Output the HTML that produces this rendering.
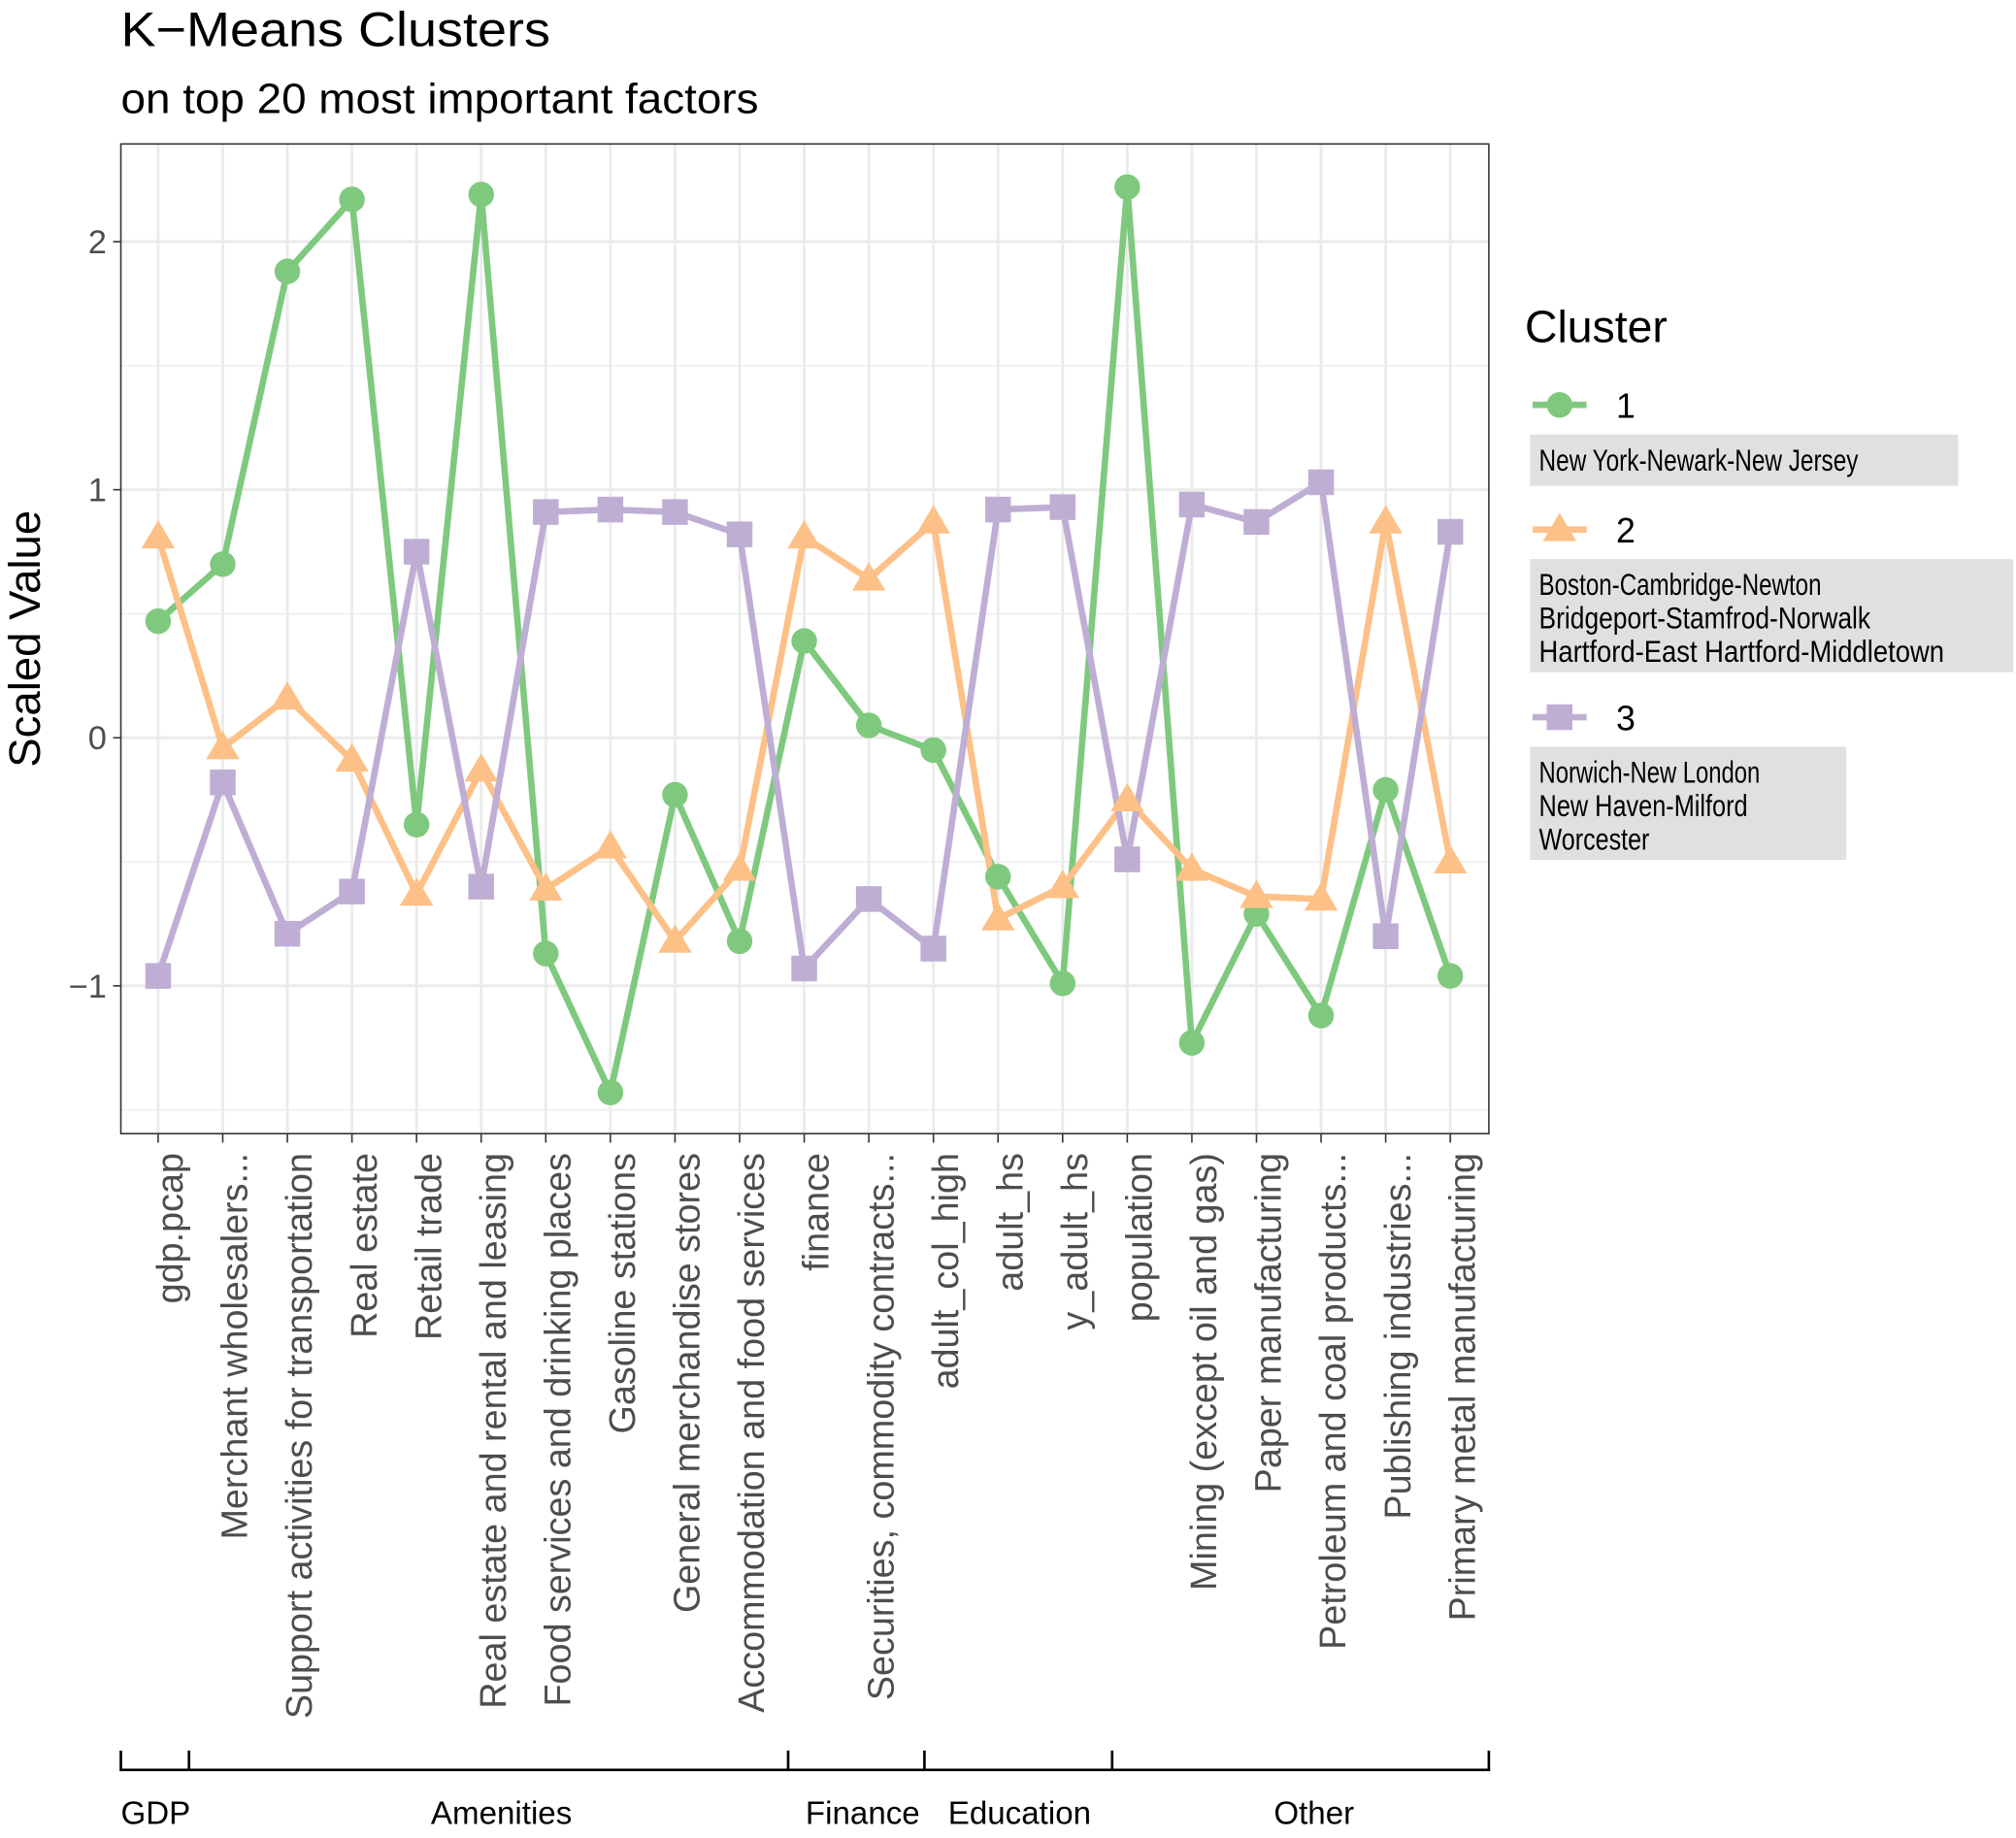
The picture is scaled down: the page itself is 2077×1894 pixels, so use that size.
<!DOCTYPE html>
<html><head><meta charset="utf-8"><style>
html,body{margin:0;padding:0;background:#fff;}
svg{display:block;font-family:"Liberation Sans",sans-serif;}
</style></head><body>
<svg id="chart" width="2077" height="1894" viewBox="0 0 1568 1430" preserveAspectRatio="none" xmlns="http://www.w3.org/2000/svg">
<text x="94" y="36" font-size="38" fill="#000" textLength="334" lengthAdjust="spacingAndGlyphs">K−Means Clusters</text>
<text x="94" y="88" font-size="33" fill="#000" textLength="496" lengthAdjust="spacingAndGlyphs">on top 20 most important factors</text>
<g id="grid"></g>
<g id="series"></g>
<rect x="94" y="112" width="1064" height="770" fill="none" stroke="#333" stroke-width="1.2"/>
<g id="axes"></g>
<text transform="translate(31,497) rotate(-90)" text-anchor="middle" font-size="34" fill="#000" textLength="200" lengthAdjust="spacingAndGlyphs">Scaled Value</text>
<g id="groups">
<path d="M94,1362V1377H1158V1362M147,1362V1377M613,1362V1377M719,1362V1377M865,1362V1377" fill="none" stroke="#000" stroke-width="2"/>
<text x="94" y="1419" font-size="25">GDP</text>
<text x="390" y="1419" font-size="25" text-anchor="middle">Amenities</text>
<text x="671" y="1419" font-size="25" text-anchor="middle">Finance</text>
<text x="793" y="1419" font-size="25" text-anchor="middle">Education</text>
<text x="1022" y="1419" font-size="25" text-anchor="middle">Other</text>
</g>
<g id="legend">
<text x="1186" y="266" font-size="35">Cluster</text>
</g>
</svg>
<script>
const categories = ["gdp.pcap","Merchant wholesalers...","Support activities for transportation","Real estate","Retail trade","Real estate and rental and leasing","Food services and drinking places","Gasoline stations","General merchandise stores","Accommodation and food services","finance","Securities, commodity contracts...","adult_col_high","adult_hs","y_adult_hs","population","Mining (except oil and gas)","Paper manufacturing","Petroleum and coal products...","Publishing industries...","Primary metal manufacturing"];
const cluster1 = [0.47,0.70,1.88,2.17,-0.35,2.19,-0.87,-1.43,-0.23,-0.82,0.39,0.05,-0.05,-0.56,-0.99,2.22,-1.23,-0.71,-1.12,-0.21,-0.96];
const cluster2 = [0.81,-0.04,0.16,-0.09,-0.63,-0.13,-0.61,-0.44,-0.82,-0.53,0.81,0.64,0.87,-0.73,-0.60,-0.25,-0.53,-0.64,-0.65,0.87,-0.50];
const cluster3 = [-0.96,-0.18,-0.79,-0.62,0.75,-0.60,0.91,0.92,0.91,0.82,-0.93,-0.65,-0.85,0.92,0.93,-0.49,0.94,0.87,1.03,-0.80,0.83];
const yTicks = [-1,0,1,2];
const yMinor = [-1.5,-0.5,0.5,1.5];
const legendLabels = ["1","2","3"];
const legendMembers = [["New York-Newark-New Jersey"],["Boston-Cambridge-Newton","Bridgeport-Stamfrod-Norwalk","Hartford-East Hartford-Middletown"],["Norwich-New London","New Haven-Milford","Worcester"]];

const NS="http://www.w3.org/2000/svg";
function xs(i){return 123+i*(1128-123)/(categories.length-1);}
function ys(v){return 574-v*193;}
function mk(tag,attrs,parent){const e=document.createElementNS(NS,tag);for(const k in attrs)e.setAttribute(k,attrs[k]);parent.appendChild(e);return e;}
const grid=document.getElementById('grid'),axes=document.getElementById('axes'),series=document.getElementById('series'),legend=document.getElementById('legend');
mk('rect',{x:94,y:112,width:1064,height:770,fill:'#fff'},grid);
yMinor.forEach(v=>{const l=mk('line',{x1:94,x2:1158,y1:ys(v),y2:ys(v),stroke:'#ebebeb','stroke-width':1},grid);

});
yTicks.forEach(v=>{const l=mk('line',{x1:94,x2:1158,y1:ys(v),y2:ys(v),stroke:'#ebebeb','stroke-width':2.2},grid);


const t=mk('line',{x1:88,x2:94,y1:ys(v),y2:ys(v),stroke:'#333','stroke-width':1.2},axes);


const tx=mk('text',{x:83,y:ys(v)+9,'text-anchor':'end','font-size':26,fill:'#4d4d4d'},axes);
tx.textContent=(v<0?'−':'')+Math.abs(v);

});
categories.forEach((c,i)=>{const x=xs(i);
const l=mk('line',{x1:x,x2:x,y1:112,y2:882,stroke:'#ebebeb','stroke-width':2.2},grid);


const t=mk('line',{x1:x,x2:x,y1:882,y2:889,stroke:'#333','stroke-width':1.2},axes);


const tx=mk('text',{transform:`translate(${x+19},897) rotate(-90)`,'text-anchor':'end','font-size':28.5,fill:'#4d4d4d'},axes);
tx.textContent=c;

});
const colors=['#7fc97f','#fdc086','#beaed4'];
const data=[cluster1,cluster2,cluster3];
function marker(k,x,y,parent){let e;
if(k===0)e=mk('circle',{cx:x,cy:y,r:10,fill:colors[k]},parent);
else if(k===1)e=mk('polygon',{points:`${x},${y-13} ${x-13},${y+9} ${x+13},${y+9}`,fill:colors[k]},parent);
else e=mk('rect',{x:x-10,y:y-10,width:20,height:20,fill:colors[k]},parent);
return e;}
data.forEach((d,k)=>{const p=mk('polyline',{points:d.map((v,i)=>xs(i)+','+ys(v)).join(' '),fill:'none',stroke:colors[k],'stroke-width':5,'stroke-linejoin':'round'},series);

});
data.forEach((d,k)=>{d.forEach((v,i)=>{const m=marker(k,xs(i),ys(v),series);

});});
const entryY=[315,412,558];
legendLabels.forEach((lab,k)=>{const y=entryY[k];
const l=mk('line',{x1:1192,x2:1234,y1:y,y2:y,stroke:colors[k],'stroke-width':5},legend);


const m=marker(k,1213,y,legend);


const t=mk('text',{x:1257,y:y+10,'font-size':27},legend);
t.textContent=lab;


const lines=legendMembers[k];
const by=y+23,bh=lines.length===1?40:88;
const w=[333,376,246][k];
const r=mk('rect',{x:1190,y:by,width:w,height:bh,fill:'#e0e0e0'},legend);


lines.forEach((s,j)=>{const tt=mk('text',{x:1197,y:by+28+j*26,'font-size':24,fill:'#000',textLength:(s.length*9.55),lengthAdjust:'spacingAndGlyphs'},legend);
tt.textContent=s;

});});
</script>
</body></html>
